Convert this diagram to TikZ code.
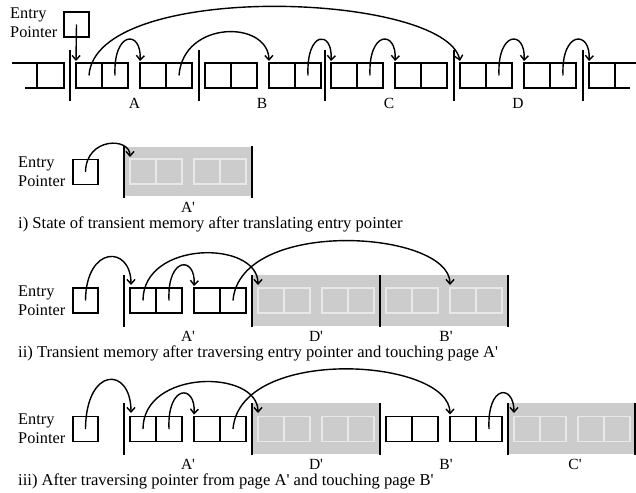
\documentclass[tikz,border=0pt]{standalone}
\usepackage{fontspec}
\setmainfont{Liberation Serif}[Ligatures=TeXOff]
\usetikzlibrary{arrows.meta}
\tikzset{
  cell/.style={draw, line width=1.5pt, minimum width=26pt, minimum height=25pt, inner sep=0pt, outer sep=0pt},
  ghost/.style={draw=black!9, line width=1.6pt, minimum width=26pt, minimum height=25pt, inner sep=0pt, outer sep=0pt},
  sepline/.style={line width=1.6pt},
  ptr/.style={line width=1.4pt, -{Straight Barb[length=4.5pt,width=8pt]}},
  shadearea/.style={fill=black!20, draw=none},
  lbl/.style={font=\fontsize{15.5}{17}\selectfont, inner sep=0pt, anchor=base},
  captext/.style={font=\fontsize{16.6}{18}\selectfont, inner sep=0pt, anchor=base west},
  eptext/.style={font=\fontsize{16.3}{18}\selectfont, inner sep=0pt, anchor=base west},
}
\newcommand\objbox[3]{%
  \node[cell] (#1l) at (#2+13,#3) {};
  \node[cell] (#1r) at (#2+39,#3) {};}
\newcommand\ghostpage[3]{%
  \node[ghost] (#1a) at (#2+19,#3) {};
  \node[ghost] (#1b) at (#2+45,#3) {};
  \node[ghost] (#1c) at (#2+83,#3) {};
  \node[ghost] (#1d) at (#2+109,#3) {};}
\begin{document}
\begin{tikzpicture}[x=1pt,y=-1pt]
\useasboundingbox (0,0) rectangle (636,492);

% ================= top row =================
\node[eptext] (t-entry) at (10,19) {Entry};
\node[eptext] (t-pointer) at (10,38) {Pointer};
\node[cell, minimum width=25pt] (ep0) at (76.5,24.5) {};

\foreach \x in {70,199,325,454,583} \draw[sepline] (\x,50) -- (\x,101);
% partial object on the left
\draw[line width=1.5pt] (12,63) -- (64,63) -- (64,88) -- (25,88);
\draw[line width=1.5pt] (37,63) -- (37,88);
\objbox{a1}{76}{75.5}
\objbox{a2}{140}{75.5}
\objbox{b1}{205}{75.5}
\objbox{b2}{269}{75.5}
\objbox{c1}{331}{75.5}
\objbox{c2}{395}{75.5}
\objbox{d1}{460}{75.5}
\objbox{d2}{524}{75.5}
\node[cell] (e1l) at (602,75.5) {};
\draw[line width=1.5pt] (e1l.north east) -- (636,63);
\draw[line width=1.5pt] (e1l.south east) -- (630,88);

\node[lbl] (lA) at (134.5,108) {A};
\node[lbl] (lB) at (262,108) {B};
\node[lbl] (lC) at (389,108) {C};
\node[lbl] (lD) at (518,108) {D};

\draw[ptr] (ep0.center) -- ([yshift=2pt]a1l.north west);
\draw[ptr] (a1l.center) .. controls (95,-20) and (445,-8) .. ([yshift=2pt]d1l.north west);
\draw[ptr] (a1r.center) .. controls (113,30) and (142,30) .. ([yshift=2pt]a2l.north west);
\draw[ptr] (a2r.center) .. controls (183,20) and (268,20) .. ([yshift=2pt]b2l.north west);
\draw[ptr] (b2r.center) .. controls (306,30) and (333,30) .. ([yshift=2pt]c1l.north west);
\draw[ptr] (c1r.center) .. controls (368,30) and (397,30) .. ([yshift=2pt]c2l.north west);
\draw[ptr] (d1r.center) .. controls (497,30) and (526,30) .. ([yshift=2pt]d2l.north west);
\draw[ptr] (d2r.center) .. controls (561,30) and (591,30) .. ([yshift=2pt]e1l.north west);

% ================= i) =================
\node[eptext] (i-entry) at (18,167) {Entry};
\node[eptext] (i-pointer) at (18,186) {Pointer};
\node[cell, minimum width=25pt] (ep1) at (85.5,172) {};
\fill[shadearea] (124,147) rectangle (252,196);
\ghostpage{ig}{124}{171.5}
\draw[sepline] (124,146) -- (124,198);
\draw[sepline] (252,146) -- (252,198);
\coordinate (i-tip) at (130,157);
\draw[ptr] (ep1.center) .. controls (86,137) and (130,137) .. (i-tip);
\node[lbl] (i-lA) at (188,212.5) {A'};
\node[captext] (i-cap) at (18,228) {i) State of transient memory after translating entry pointer};

% ================= ii) =================
\node[eptext] (ii-entry) at (18,296) {Entry};
\node[eptext] (ii-pointer) at (18,315) {Pointer};
\node[cell, minimum width=25pt] (ep2) at (85.5,300.5) {};
\fill[shadearea] (252,275) rectangle (508,326);
\ghostpage{iiD}{252}{300.5}
\ghostpage{iiB}{380}{300.5}
\foreach \x in {124,252,380,508} \draw[sepline] (\x,275) -- (\x,327);
\objbox{iia1}{130}{300.5}
\objbox{iia2}{194}{300.5}
\coordinate (ii-tipA) at (131,285);
\coordinate (ii-tipD) at (258,285);
\coordinate (ii-tipB) at (450,285);
\draw[ptr] (ep2.center) .. controls (86,245) and (131,245) .. (ii-tipA);
\draw[ptr] (iia1l.center) .. controls (143,240) and (258,240) .. (ii-tipD);
\draw[ptr] (iia1r.center) .. controls (167,256) and (196,256) .. ([yshift=2pt]iia2l.north west);
\draw[ptr] (iia2r.center) .. controls (240,217) and (450,230) .. (ii-tipB);
\node[lbl] (ii-lA) at (188,341.5) {A'};
\node[lbl] (ii-lD) at (316,341.5) {D'};
\node[lbl] (ii-lB) at (446,341.5) {B'};
\node[captext] (ii-cap) at (18,357.5) {ii) Transient memory after traversing entry pointer and touching page A'};

% ================= iii) =================
\node[eptext] (iii-entry) at (18,424) {Entry};
\node[eptext] (iii-pointer) at (18,443) {Pointer};
\node[cell, minimum width=25pt] (ep3) at (85.5,429) {};
\fill[shadearea] (252,403) rectangle (380,454);
\fill[shadearea] (508,403) rectangle (636,454);
\ghostpage{iiiD}{252}{429}
\ghostpage{iiiC}{508}{429}
\foreach \x in {124,252,380,508,635} \draw[sepline] (\x,403) -- (\x,455);
\objbox{iiia1}{130}{429}
\objbox{iiia2}{194}{429}
\objbox{iiib1}{386}{429}
\objbox{iiib2}{450}{429}
\coordinate (iii-tipA) at (131,413);
\coordinate (iii-tipD) at (258,413);
\coordinate (iii-tipC) at (514,413);
\draw[ptr] (ep3.center) .. controls (86,366) and (131,366) .. (iii-tipA);
\draw[ptr] (iiia1l.center) .. controls (143,369) and (258,369) .. (iii-tipD);
\draw[ptr] (iiia1r.center) .. controls (167,384) and (196,384) .. ([yshift=2pt]iiia2l.north west);
\draw[ptr] (iiia2r.center) .. controls (240,345) and (450,358) .. ([yshift=2pt]iiib2l.north west);
\draw[ptr] (iiib2r.center) .. controls (487,384) and (514,384) .. (iii-tipC);
\node[lbl] (iii-lA) at (188,469) {A'};
\node[lbl] (iii-lD) at (316,469) {D'};
\node[lbl] (iii-lB) at (446,469) {B'};
\node[lbl] (iii-lC) at (575,469) {C'};
\node[captext] (iii-cap) at (18,485) {iii) After traversing pointer from page A' and touching page B'};
\end{tikzpicture}
\end{document}
